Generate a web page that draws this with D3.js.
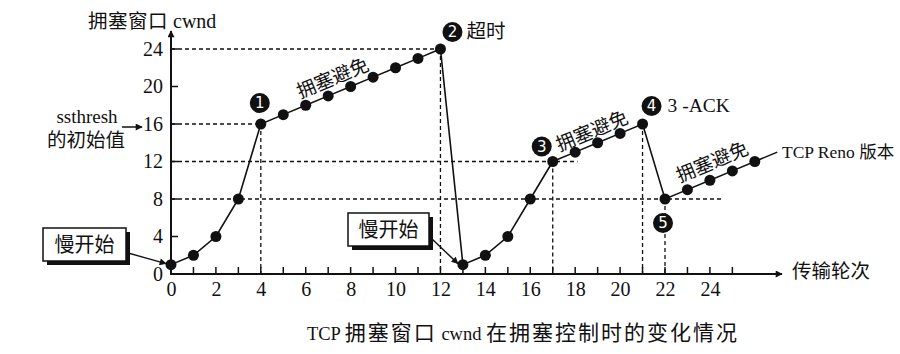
<!DOCTYPE html>
<html>
<head>
<meta charset="utf-8">
<script src="https://cdn.jsdelivr.net/npm/d3@7"></script>
<style>
body { margin: 0; background: #fff; }
text { font-family: "Liberation Serif", "Noto Sans CJK SC", serif; fill: #111; }
</style>
</head>
<body>
<svg class="chart"></svg>
<script>
// transmission rounds and cwnd values
var rounds = [0, 1, 2, 3, 4, 5, 6, 7, 8, 9, 10, 11, 12, 13, 14, 15, 16, 17, 18, 19, 20, 21, 22, 23, 24, 25, 26];
var cwnd = [1, 2, 4, 8, 16, 17, 18, 19, 20, 21, 22, 23, 24, 1, 2, 4, 8, 12, 13, 14, 15, 16, 8, 9, 10, 11, 12];
var tail = [27, 13]; // line keeps going past the last dot

var xTickLabels = [0, 2, 4, 6, 8, 10, 12, 14, 16, 18, 20, 22, 24];
var xTickMarks = [1, 2, 3, 4, 5, 6, 7, 8, 9, 10, 11, 12, 13, 14, 15, 16, 17, 18, 19, 20, 21, 22, 23, 24, 25];
var yTicks = [0, 4, 8, 12, 16, 20, 24];

// dashed guides: [round from, round to, cwnd] and [round, cwnd]
var hGuides = [[0, 12, 24], [0, 4, 16], [0, 18.1, 12], [0, 24.5, 8]];
var vGuides = [[4, 16], [12, 24], [17, 12], [21, 16], [22, 8]];

// numbered events: [label, round, cwnd, dx, dy]
var events = [["1", 4, 16, -1, -21], ["2", 12, 24, 12, -17], ["3", 17, 12, -11, -15], ["4", 21, 16, 9, -18], ["5", 22, 8, -2, 24]];

// "congestion avoidance" label centres: [round, cwnd]
var avoid = [[7.2, 20.9], [18.75, 15.25], [24.1, 11.95]];

var width = 900, height = 354;

var x = d3.scaleLinear().domain([0, 22]).range([171, 665]);
var y = d3.scaleLinear().domain([0, 24]).range([274, 49]);

var chart = d3.select(".chart")
    .attr("width", width)
    .attr("height", height);

var defs = chart.append("defs");
defs.append("marker")
    .attr("id", "arrow")
    .attr("viewBox", "0 0 10 10")
    .attr("refX", 9)
    .attr("refY", 5)
    .attr("markerWidth", 9)
    .attr("markerHeight", 7)
    .attr("markerUnits", "userSpaceOnUse")
    .attr("orient", "auto")
    .append("path")
    .attr("d", "M0,0 L10,5 L0,10 Z")
    .attr("fill", "#111");

// split mixed text so latin and CJK runs get their own size
function rich(t, str, latin, cjk, spacing) {
    var runs = str.match(/[\u4e00-\u9fff]+|[^\u4e00-\u9fff]+/g);
    runs.forEach(function(r) {
        var isCjk = /[\u4e00-\u9fff]/.test(r);
        t.append("tspan")
            .style("font-size", (isCjk ? cjk : latin) + "px")
            .style("letter-spacing", isCjk ? (spacing || 0) + "px" : "0px")
            .text(r);
    });
    return t;
}

var g = chart.append("g");

// dashed guide lines
g.selectAll("line.hguide")
    .data(hGuides)
    .enter()
    .append("line")
    .attr("class", "hguide")
    .attr("x1", function(d) { return x(d[0]); })
    .attr("x2", function(d) { return x(d[1]); })
    .attr("y1", function(d) { return y(d[2]); })
    .attr("y2", function(d) { return y(d[2]); })
    .attr("stroke", "#111")
    .attr("stroke-width", 1.3)
    .attr("stroke-dasharray", "4,3");

g.selectAll("line.vguide")
    .data(vGuides)
    .enter()
    .append("line")
    .attr("class", "vguide")
    .attr("x1", function(d) { return x(d[0]); })
    .attr("x2", function(d) { return x(d[0]); })
    .attr("y1", function(d) { return y(d[1]); })
    .attr("y2", y(0))
    .attr("stroke", "#111")
    .attr("stroke-width", 1.3)
    .attr("stroke-dasharray", "4,3");

// axes
var xAxis = d3.axisBottom(x)
    .tickValues(xTickLabels)
    .tickSize(0)
    .tickPadding(8);

var xg = g.append("g")
    .attr("transform", "translate(0," + y(0) + ")")
    .call(xAxis);
xg.select(".domain").remove();
xg.selectAll("text")
    .style("font-size", "20px")
    .style("font-family", "Liberation Serif, serif");

g.selectAll("line.xtick")
    .data(xTickMarks)
    .enter()
    .append("line")
    .attr("class", "xtick")
    .attr("x1", function(d) { return x(d); })
    .attr("x2", function(d) { return x(d); })
    .attr("y1", y(0))
    .attr("y2", y(0) - 7)
    .attr("stroke", "#111")
    .attr("stroke-width", 1.5);

var yAxis = d3.axisLeft(y)
    .tickValues(yTicks)
    .tickSize(0)
    .tickPadding(8);

var yg = g.append("g")
    .attr("transform", "translate(" + x(0) + ",0)")
    .call(yAxis);
yg.select(".domain").remove();
yg.selectAll("text")
    .style("font-size", "20px")
    .style("font-family", "Liberation Serif, serif");

g.selectAll("line.ytick")
    .data(yTicks.slice(1))
    .enter()
    .append("line")
    .attr("class", "ytick")
    .attr("x1", x(0))
    .attr("x2", x(0) + 7)
    .attr("y1", function(d) { return y(d); })
    .attr("y2", function(d) { return y(d); })
    .attr("stroke", "#111")
    .attr("stroke-width", 1.5);

g.append("line")
    .attr("x1", x(0) - 1)
    .attr("x2", 782)
    .attr("y1", y(0))
    .attr("y2", y(0))
    .attr("stroke", "#111")
    .attr("stroke-width", 2)
    .attr("marker-end", "url(#arrow)");

g.append("line")
    .attr("x1", x(0))
    .attr("x2", x(0))
    .attr("y1", y(0) + 1)
    .attr("y2", 31)
    .attr("stroke", "#111")
    .attr("stroke-width", 2)
    .attr("marker-end", "url(#arrow)");

// cwnd line and dots
var pts = rounds.map(function(r, i) { return [r, cwnd[i]]; });

var line = d3.line()
    .x(function(d) { return x(d[0]); })
    .y(function(d) { return y(d[1]); });

g.append("path")
    .datum(pts.concat([tail]))
    .attr("d", line)
    .attr("fill", "none")
    .attr("stroke", "#111")
    .attr("stroke-width", 1.6);

g.selectAll("circle.dot")
    .data(pts)
    .enter()
    .append("circle")
    .attr("class", "dot")
    .attr("cx", function(d) { return x(d[0]); })
    .attr("cy", function(d) { return y(d[1]); })
    .attr("r", 5.5)
    .attr("fill", "#111");

// numbered event markers
var ev = g.selectAll("g.event")
    .data(events)
    .enter()
    .append("g")
    .attr("class", "event")
    .attr("transform", function(d) {
        return "translate(" + (x(d[1]) + d[3]) + "," + (y(d[2]) + d[4]) + ")";
    });
ev.append("circle")
    .attr("r", 10)
    .attr("fill", "#111");
ev.append("text")
    .attr("text-anchor", "middle")
    .attr("dy", "0.36em")
    .style("font-family", "DejaVu Sans, sans-serif")
    .style("font-size", "15px")
    .style("fill", "#fff")
    .text(function(d) { return d[0]; });

// text labels
function label(txt, px, py, latin, cjk, anchor, spacing) {
    var t = chart.append("text")
        .attr("x", px)
        .attr("y", py)
        .attr("dy", "0.35em")
        .attr("text-anchor", anchor || "start");
    return rich(t, txt, latin, cjk, spacing);
}

label("拥塞窗口 cwnd", 88, 22, 20, 19.5, "start", 0.5);
label("ssthresh", 87, 117, 19, 19, "middle");
label("的初始值", 86, 141, 19, 19.5, "middle");
label("超时", x(12) + 26, y(24) - 17, 19, 19.5);
label("3 -ACK", x(21) + 25, y(16) - 18, 19.5, 19.5);
label("TCP Reno 版本", 782, 152, 17.5, 17.5);
label("传输轮次", 792, 272, 19, 19.5);
label("TCP 拥塞窗口 cwnd 在拥塞控制时的变化情况", 523, 334, 18.5, 21, "middle", 2);

chart.append("line")
    .attr("x1", 122)
    .attr("x2", 142)
    .attr("y1", 127)
    .attr("y2", 127)
    .attr("stroke", "#111")
    .attr("stroke-width", 1.5)
    .attr("marker-end", "url(#arrow)");

// rotated "congestion avoidance" labels along the line
var angle = Math.atan2(y(24) - y(16), x(12) - x(4)) * 180 / Math.PI;
chart.selectAll("text.avoid")
    .data(avoid)
    .enter()
    .append("text")
    .attr("class", "avoid")
    .attr("text-anchor", "middle")
    .attr("transform", function(d) {
        return "translate(" + x(d[0]) + "," + y(d[1]) + ") rotate(" + angle + ")";
    })
    .attr("dy", "0.35em")
    .style("font-size", "19px")
    .text("拥塞避免");

// slow start boxes: [x, y, w, h, target round, target cwnd]
var boxes = [[43, 228, 83, 33, 0, 1], [348, 213, 81, 33, 13, 1]];
var bx = chart.selectAll("g.box")
    .data(boxes)
    .enter()
    .append("g")
    .attr("class", "box");
bx.append("rect")
    .attr("x", function(d) { return d[0] + 4; })
    .attr("y", function(d) { return d[1] + 4; })
    .attr("width", function(d) { return d[2]; })
    .attr("height", function(d) { return d[3]; })
    .attr("fill", "#111");
bx.append("rect")
    .attr("x", function(d) { return d[0]; })
    .attr("y", function(d) { return d[1]; })
    .attr("width", function(d) { return d[2]; })
    .attr("height", function(d) { return d[3]; })
    .attr("fill", "#fff")
    .attr("stroke", "#111")
    .attr("stroke-width", 1.5);
bx.append("text")
    .attr("x", function(d) { return d[0] + d[2] / 2; })
    .attr("y", function(d) { return d[1] + d[3] / 2; })
    .attr("dy", "0.35em")
    .attr("text-anchor", "middle")
    .style("font-size", "20px")
    .text("慢开始");
bx.append("line")
    .attr("x1", function(d) { return d[0] + d[2] + 2; })
    .attr("y1", function(d) { return d[1] + d[3] - 8; })
    .attr("x2", function(d) { return x(d[4]) - 5; })
    .attr("y2", function(d) { return y(d[5]) - 1; })
    .attr("stroke", "#111")
    .attr("stroke-width", 1.4)
    .attr("marker-end", "url(#arrow)");
</script>
</body>
</html>
